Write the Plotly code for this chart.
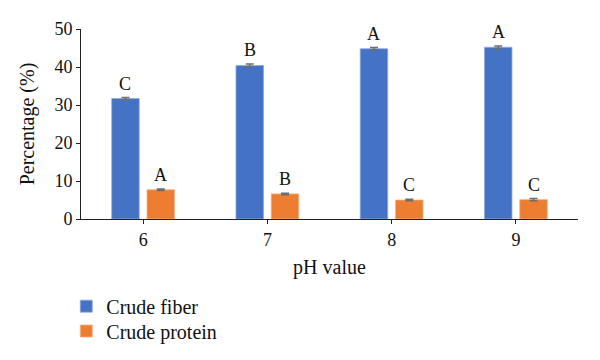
import plotly.graph_objects as go

categories = ["6", "7", "8", "9"]
fiber = [31.7, 40.4, 44.8, 45.2]
protein = [7.7, 6.6, 5.0, 5.1]
fiber_err = [0.3, 0.4, 0.3, 0.3]
protein_err = [0.2, 0.2, 0.2, 0.3]
fiber_letters = ["C", "B", "A", "A"]
protein_letters = ["A", "B", "C", "C"]

BLUE = "#4472C4"
ORANGE = "#ED7D31"
FONT = "Times New Roman, Liberation Serif, serif"
INK = "#111111"

fig = go.Figure()
fig.add_trace(go.Bar(
    x=categories, y=fiber, name="Crude fiber", legend="legend",
    marker=dict(color=BLUE, line=dict(color="#8FAADC", width=0.8)),
    error_y=dict(type="data", array=fiber_err, color="#6E6E6E", thickness=1.5, width=4),
))
fig.add_trace(go.Bar(
    x=categories, y=protein, name="Crude protein", legend="legend2",
    marker=dict(color=ORANGE, line=dict(color="#F4B183", width=0.8)),
    error_y=dict(type="data", array=protein_err, color="#6E6E6E", thickness=1.5, width=4),
))

bargap = 0.432
bargroupgap = 0.22
slot = (1 - bargap) / 2
annotations = []
for i, cat in enumerate(categories):
    for val, letter, off in [
        (fiber[i], fiber_letters[i], -slot / 2),
        (protein[i], protein_letters[i], slot / 2),
    ]:
        annotations.append(dict(
            x=i + off, y=val, xref="x", yref="y", text=letter, showarrow=False,
            yanchor="bottom", yshift=3, font=dict(family=FONT, size=18, color=INK),
        ))

legend_common = dict(
    xanchor="left", yanchor="top", itemwidth=30, bgcolor="rgba(0,0,0,0)",
    font=dict(family=FONT, size=20, color=INK),
)

fig.update_layout(
    width=600, height=360,
    margin=dict(l=80.7, r=22.3, t=29, b=140.7, autoexpand=False),
    paper_bgcolor="white", plot_bgcolor="white",
    barmode="group", bargap=bargap, bargroupgap=bargroupgap,
    font=dict(family=FONT, size=18, color=INK),
    showlegend=True,
    legend=dict(x=-0.0296, y=-0.356, **legend_common),
    legend2=dict(x=-0.0296, y=-0.487, **legend_common),
    annotations=annotations,
    shapes=[dict(
        type="line", xref="paper", x0=1, x1=1, yref="y", ysizemode="pixel",
        yanchor=0, y0=0, y1=-4, line=dict(color="#222222", width=1),
    )],
)
fig.update_xaxes(
    type="category", automargin=False, showline=True, linecolor="#222222", linewidth=1,
    ticks="outside", ticklen=4, tickcolor="#222222",
    tickfont=dict(family=FONT, size=18, color=INK),
    title=dict(text="pH value", font=dict(family=FONT, size=20, color=INK), standoff=11),
    showgrid=False, zeroline=False,
)
fig.update_yaxes(
    range=[0, 50], dtick=10, automargin=False, showline=True, linecolor="#222222", linewidth=1,
    ticks="outside", ticklen=4, tickcolor="#222222",
    tickfont=dict(family=FONT, size=18, color=INK),
    title=dict(text="Percentage (%)", font=dict(family=FONT, size=20, color=INK), standoff=14),
    showgrid=False, zeroline=False,
)

fig.write_html(
    "out.html",
    config={"displayModeBar": False},
    post_script="document.body.style.margin='0';",
)
